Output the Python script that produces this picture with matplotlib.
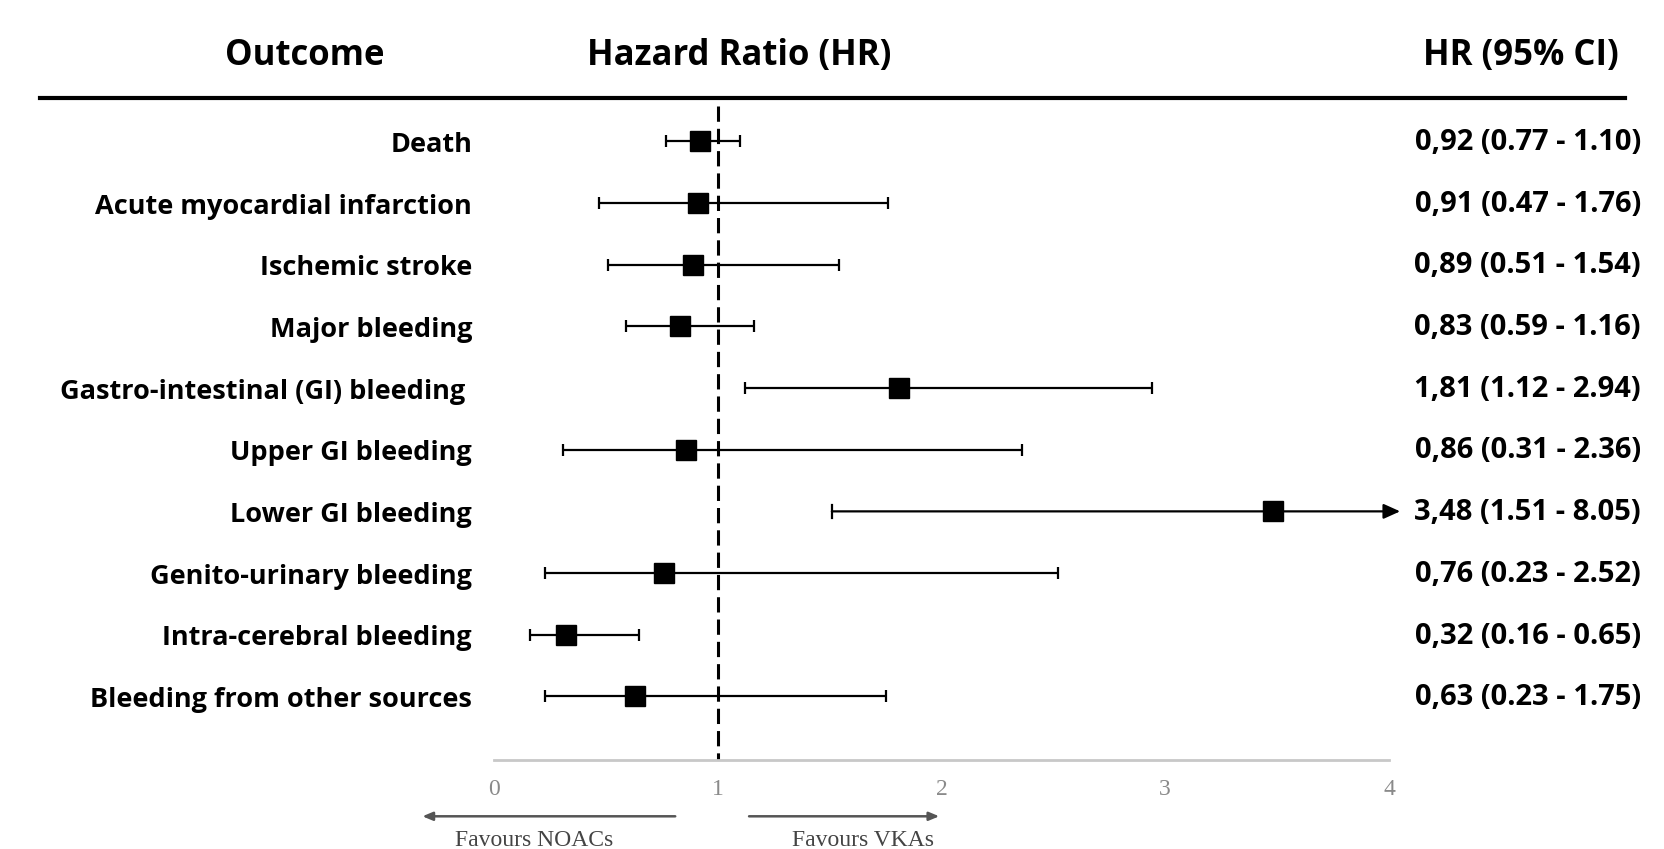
import numpy as np
import matplotlib.pyplot as plt
from matplotlib.transforms import blended_transform_factory

outcomes = ["Death", "Acute myocardial infarction", "Ischemic stroke",
            "Major bleeding", "Gastro-intestinal (GI) bleeding ",
            "Upper GI bleeding", "Lower GI bleeding",
            "Genito-urinary bleeding", "Intra-cerebral bleeding",
            "Bleeding from other sources"]
hr = [0.92, 0.91, 0.89, 0.83, 1.81, 0.86, 3.48, 0.76, 0.32, 0.63]
ci_low = [0.77, 0.47, 0.51, 0.59, 1.12, 0.31, 1.51, 0.23, 0.16, 0.23]
ci_high = [1.10, 1.76, 1.54, 1.16, 2.94, 2.36, 8.05, 2.52, 0.65, 1.75]
hr_text = ["0,92 (0.77 - 1.10)", "0,91 (0.47 - 1.76)", "0,89 (0.51 - 1.54)",
           "0,83 (0.59 - 1.16)", "1,81 (1.12 - 2.94)", "0,86 (0.31 - 2.36)",
           "3,48 (1.51 - 8.05)", "0,76 (0.23 - 2.52)", "0,32 (0.16 - 0.65)",
           "0,63 (0.23 - 1.75)"]
xticks = [0, 1, 2, 3, 4]

x_max = 4
bold_font = "Open Sans"
serif_font = "Liberation Serif"

fig = plt.figure(figsize=(16.65, 8.49), dpi=100)
ax = fig.add_axes([0.2967, 0.1048, 0.5375, 0.7798])
ax.set_xlim(0, x_max)
ax.set_ylim(10.03, -0.70)
ax.axis("off")

y = np.arange(len(outcomes))

# confidence intervals, clipped at the axis end with an arrow when they run past it
for i in y:
    lo, hi = ci_low[i], ci_high[i]
    if hi > x_max:
        ax.annotate("", xy=(x_max + 0.05, i), xytext=(lo, i), annotation_clip=False,
                    arrowprops=dict(arrowstyle="-|>,head_length=1.0,head_width=0.45",
                                    color="black", lw=1.6, shrinkA=0, shrinkB=0))
        ax.plot([lo, lo], [i - 0.1, i + 0.1], color="black", lw=1.6)
    else:
        ax.errorbar(hr[i], i, xerr=[[hr[i] - lo], [hi - hr[i]]], fmt="none",
                    ecolor="black", elinewidth=1.6, capsize=4.5, capthick=1.6)

ax.plot(hr, y, "s", color="black", markersize=15, zorder=3)

# line of no effect
ax.plot([1, 1], [-0.57, 10.03], color="black", lw=2.2, ls=(0, (5, 2.3)), zorder=1)

# bottom axis
ax.plot([0, x_max], [10.03, 10.03], color="#c8c8c8", lw=2, clip_on=False)
tick_tr = ax.get_xaxis_transform()
for t in xticks:
    ax.text(t, -0.045, str(t), transform=tick_tr, ha="center", va="center",
            fontsize=17, color="#8a8a8a", family=serif_font)

# direction arrows
arrow_y = -0.085
for start, end in [(0.81, -0.32), (1.14, 1.99)]:
    ax.annotate("", xy=(end, arrow_y), xytext=(start, arrow_y), xycoords=tick_tr,
                textcoords=tick_tr, annotation_clip=False,
                arrowprops=dict(arrowstyle="-|>,head_length=0.6,head_width=0.25",
                                color="#555555", lw=1.8, shrinkA=0, shrinkB=0))
ax.text(0.18, -0.122, "Favours NOACs", transform=tick_tr, ha="center", va="center",
        fontsize=17, color="#444444", family=serif_font)
ax.text(1.65, -0.122, "Favours VKAs", transform=tick_tr, ha="center", va="center",
        fontsize=17, color="#444444", family=serif_font)

# row labels and HR text
row_tr = blended_transform_factory(fig.transFigure, ax.transData)
for i in y:
    ax.text(0.2835, i + 0.06, outcomes[i], ha="right", va="center", fontsize=19.5,
            fontweight="bold", family=bold_font, transform=row_tr)
    ax.text(0.9855, i + 0.02, hr_text[i], ha="right", va="center", fontsize=21,
            fontweight="bold", family=bold_font, transform=row_tr)

# header
fig.add_artist(plt.Line2D([0.024, 0.976], [1 - 98 / 849] * 2, color="black", lw=3))
fig.text(0.183, 0.934, "Outcome", ha="center", va="center", fontsize=25,
         fontweight="bold", family=bold_font)
fig.text(0.444, 0.934, "Hazard Ratio (HR)", ha="center", va="center", fontsize=25,
         fontweight="bold", family=bold_font)
fig.text(0.972, 0.934, "HR (95% CI)", ha="right", va="center", fontsize=25,
         fontweight="bold", family=bold_font)

fig.savefig("out.png", dpi=100, facecolor="white")
